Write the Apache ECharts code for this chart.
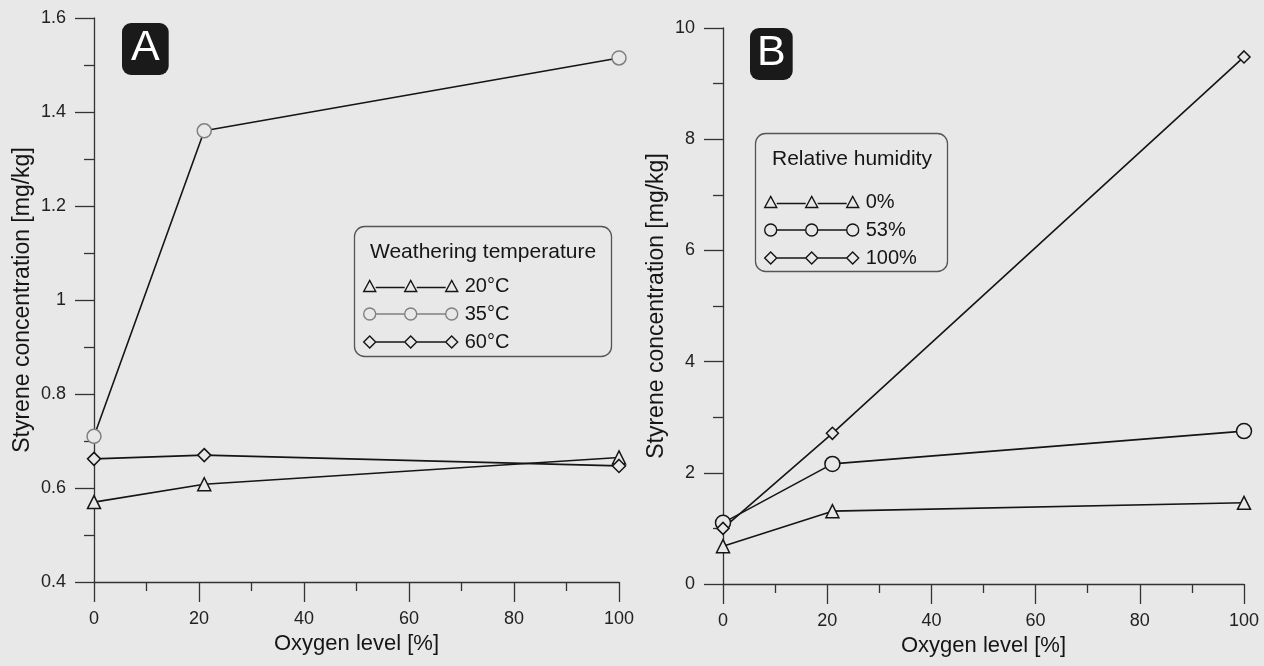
<!DOCTYPE html>
<html>
<head>
<meta charset="utf-8">
<script src="https://cdn.jsdelivr.net/npm/echarts@6/dist/echarts.min.js"></script>
<style>
html,body{margin:0;padding:0;background:#e8e8e8;}
#chart{width:1264px;height:666px;}
</style>
</head>
<body>
<div id="chart"></div>
<script>
// ---- Data ----
var oxygenLevels = [0, 21, 100];
var tempLabels = ['20°C', '35°C', '60°C'];
var temp20 = [0.570, 0.608, 0.665];
var temp35 = [0.710, 1.360, 1.515];
var temp60 = [0.662, 0.670, 0.647];
var humLabels = ['0%', '53%', '100%'];
var hum0 = [0.68, 1.31, 1.46];
var hum53 = [1.10, 2.16, 2.75];
var hum100 = [1.00, 2.71, 9.48];

var BG = '#e8e8e8';
var FONT = '"Liberation Sans", Arial, Helvetica, sans-serif';
var INK = '#151515';

function pairs(xs, ys) { return xs.map(function (x, i) { return [x, ys[i]]; }); }

// legend icons: marker - line - marker - line - marker
var ICON_TRI = 'path://M0,11.5L6,0.5L12,11.5Z M12,7.5L41,7.5 M41,11.5L47,0.5L53,11.5Z M53,7.5L82,7.5 M82,11.5L88,0.5L94,11.5Z';
var ICON_CIR = 'path://M0,6A6,6,0,1,1,12,6A6,6,0,1,1,0,6Z M12,6L41,6 M41,6A6,6,0,1,1,53,6A6,6,0,1,1,41,6Z M53,6L82,6 M82,6A6,6,0,1,1,94,6A6,6,0,1,1,82,6Z';
var ICON_DIA = 'path://M0,6L6,0L12,6L6,12Z M12,6L41,6 M41,6L47,0L53,6L47,12Z M53,6L82,6 M82,6L88,0L94,6L88,12Z';

function xAxisCfg(gridIndex) {
  return {
    gridIndex: gridIndex, type: 'value', min: 0, max: 100, interval: 20,
    name: 'Oxygen level [%]', nameLocation: 'middle', nameGap: 51,
    nameTextStyle: { fontFamily: FONT, fontSize: 22, color: INK },
    axisLine: { show: true, onZero: false, lineStyle: { color: '#333', width: 1.3 } },
    axisTick: { show: true, inside: false, length: 20, lineStyle: { color: '#333', width: 1.3 } },
    minorTick: { show: true, splitNumber: 2, length: 9, lineStyle: { color: '#333', width: 1.3 } },
    axisLabel: { margin: 28, fontFamily: FONT, fontSize: 18, color: '#222' },
    splitLine: { show: false }
  };
}
function yAxisCfg(gridIndex, min, max, interval, gap) {
  return {
    gridIndex: gridIndex, type: 'value', min: min, max: max, interval: interval,
    name: 'Styrene concentration [mg/kg]', nameLocation: 'middle', nameGap: gap,
    nameTextStyle: { fontFamily: FONT, fontSize: 23, color: INK },
    axisLine: { show: true, onZero: false, lineStyle: { color: '#333', width: 1.3 } },
    axisTick: { show: true, inside: false, length: 19, lineStyle: { color: '#333', width: 1.3 } },
    minorTick: { show: true, splitNumber: 2, length: 10, lineStyle: { color: '#333', width: 1.3 } },
    axisLabel: { margin: 28, fontFamily: FONT, fontSize: 18, color: '#222' },
    splitLine: { show: false }
  };
}
function lineSeries(name, xi, yi, xs, ys, symbol, size, stroke) {
  return {
    name: name, type: 'line', xAxisIndex: xi, yAxisIndex: yi,
    data: pairs(xs, ys), symbol: symbol, symbolSize: size, showAllSymbol: true,
    lineStyle: { color: INK, width: 1.6 },
    itemStyle: { color: BG, borderColor: stroke || INK, borderWidth: 1.5 },
    emphasis: { disabled: true }, animation: false
  };
}

var chart = echarts.init(document.getElementById('chart'), null, { renderer: 'canvas' });
var legendText = { fontFamily: FONT, fontSize: 20, color: INK, padding: [0, 0, 0, 2] };
var legendItemStyle = { color: 'rgba(0,0,0,0)', borderColor: INK, borderWidth: 1.4 };

chart.setOption({
  backgroundColor: BG,
  animation: false,
  title: [
    { text: 'A', left: 122, top: 23, padding: [3, 9, 4, 9], backgroundColor: '#1a1a1a', borderRadius: 9,
      textStyle: { fontFamily: FONT, fontSize: 43, fontWeight: 'normal', color: '#fff', lineHeight: 45 } },
    { text: 'B', left: 750, top: 28, padding: [3, 7, 4, 7], backgroundColor: '#1a1a1a', borderRadius: 9,
      textStyle: { fontFamily: FONT, fontSize: 43, fontWeight: 'normal', color: '#fff', lineHeight: 45 } },
    { text: 'Weathering temperature', left: 354, top: 226, padding: [15, 16, 94, 16],
      borderColor: '#555', borderWidth: 1.3, borderRadius: 10,
      textStyle: { fontFamily: FONT, fontSize: 21, fontWeight: 'normal', color: INK, lineHeight: 22 } },
    { text: 'Relative humidity', left: 755, top: 133, padding: [15, 16, 102, 17],
      borderColor: '#555', borderWidth: 1.3, borderRadius: 10,
      textStyle: { fontFamily: FONT, fontSize: 21, fontWeight: 'normal', color: INK, lineHeight: 22 } }
  ],
  legend: [
    { orient: 'vertical', left: 363, top: 276, padding: 0, itemGap: 8, itemWidth: 94, itemHeight: 12,
      selectedMode: false, textStyle: legendText, itemStyle: legendItemStyle,
      data: [
        { name: tempLabels[0], icon: ICON_TRI },
        { name: tempLabels[1], icon: ICON_CIR, itemStyle: { color: 'rgba(0,0,0,0)', borderColor: '#808080', borderWidth: 1.4 } },
        { name: tempLabels[2], icon: ICON_DIA }
      ] },
    { orient: 'vertical', left: 764, top: 192, padding: 0, itemGap: 8, itemWidth: 94, itemHeight: 12,
      selectedMode: false, textStyle: legendText, itemStyle: legendItemStyle,
      data: [
        { name: humLabels[0], icon: ICON_TRI },
        { name: humLabels[1], icon: ICON_CIR },
        { name: humLabels[2], icon: ICON_DIA }
      ] }
  ],
  grid: [
    { left: 94, top: 18, width: 525, height: 564 },
    { left: 723, top: 28, width: 521, height: 556 }
  ],
  xAxis: [xAxisCfg(0), xAxisCfg(1)],
  yAxis: [yAxisCfg(0, 0.4, 1.6, 0.2, 60), yAxisCfg(1, 0, 10, 2, 55)],
  series: [
    lineSeries(tempLabels[0], 0, 0, oxygenLevels, temp20, 'triangle', 13),
    lineSeries(tempLabels[1], 0, 0, oxygenLevels, temp35, 'circle', 14, '#808080'),
    lineSeries(tempLabels[2], 0, 0, oxygenLevels, temp60, 'diamond', 13),
    lineSeries(humLabels[0], 1, 1, oxygenLevels, hum0, 'triangle', 13),
    lineSeries(humLabels[1], 1, 1, oxygenLevels, hum53, 'circle', 15),
    lineSeries(humLabels[2], 1, 1, oxygenLevels, hum100, 'diamond', 12)
  ]
});
</script>
</body>
</html>
